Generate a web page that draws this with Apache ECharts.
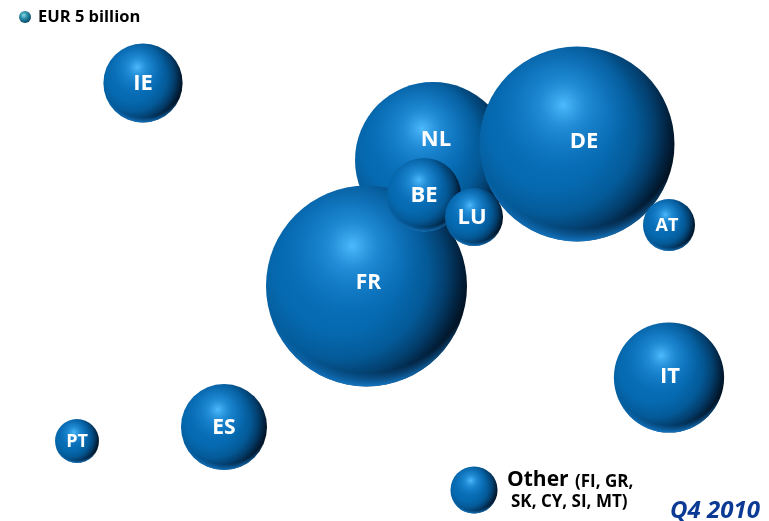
<!DOCTYPE html>
<html><head><meta charset="utf-8">
<style>html,body{margin:0;padding:0;background:#fff}#c{width:769px;height:521px}</style>
<script src="https://cdn.jsdelivr.net/npm/echarts@6/dist/echarts.min.js"></script>
</head><body><div id="c"></div>
<script>
// bubbles, back to front
const names  = ['IE','NL','DE','FR','BE','LU','AT','IT','ES','PT','Other','Key'];
const posX   = [143,433,577,366.5,424,474,669,669,224,77,474,25];
const posY   = [83,160,144,286,195,217,225,377.5,427,441,490,17];
const values = [218,845,1320,1403,190,117,94,422,257,67,77,5]; // EUR billion, estimated
const labels = ['IE','NL','DE','FR','BE','LU','AT','IT','ES','PT','',''];
const labelDX = [0,3,7,2,0,-2,-2,1,0,0,0,0];
const labelDY = [1,-20,-2,-3,1,1,1,-1,1,1,0,0];
const labelSize = [22,22,22,21,22,22,18,22,21,18,12,12];

const keyDiameter = 12, keyValue = 5;
const dia = v => keyDiameter * Math.sqrt(v / keyValue);

const shade = {type:'radial',x:0.36,y:0.42,r:0.67,colorStops:[
  {offset:0,color:'#0a72bd'},{offset:0.45,color:'#066ab1'},{offset:0.66,color:'#045a98'},
  {offset:0.8,color:'#033f6e'},{offset:0.92,color:'#021e38'},{offset:1,color:'#010c16'}]};
const glow = {type:'radial',x:0.43,y:0.3,r:0.36,colorStops:[
  {offset:0,color:'rgba(80,190,255,0.95)'},{offset:0.35,color:'rgba(50,160,235,0.55)'},
  {offset:1,color:'rgba(20,120,200,0)'}]};
const keyShade = {type:'radial',x:0.4,y:0.35,r:0.72,colorStops:[
  {offset:0,color:'#8ad6ea'},{offset:0.4,color:'#2f8fa8'},{offset:0.8,color:'#0f5a78'},{offset:1,color:'#06304a'}]};
const rim = {type:'radial',x:0.5,y:0.40,r:0.62,colorStops:[
  {offset:0,color:'rgba(20,120,200,0)'},{offset:0.86,color:'rgba(20,120,200,0)'},
  {offset:0.96,color:'rgba(20,125,205,0.85)'},{offset:1,color:'rgba(70,155,225,0.95)'}]};

const series = [];
names.forEach((n,i)=>{
  const d = dia(values[i]);
  const pt = [[posX[i],posY[i]]];
  const isKey = n==='Key';
  const layer = (suffix,color,label) => series.push({type:'scatter',name:n+suffix,silent:true,symbol:'circle',
    symbolSize:d,data:pt,itemStyle:{color,opacity:1},label:label||{show:false}});
  layer('',isKey?keyShade:shade);
  if(!isKey) layer(' glow',glow);
  layer(' rim',isKey?'rgba(0,0,0,0)':rim,{show:!!labels[i],formatter:labels[i],position:'inside',
    offset:[labelDX[i],labelDY[i]],color:'#fff',fontFamily:'Open Sans',fontWeight:'bold',fontSize:labelSize[i]});
});

const chart = echarts.init(document.getElementById('c'),null,{renderer:'canvas'});
chart.setOption({
  animation:false,backgroundColor:'#fff',
  grid:{left:0,right:0,top:0,bottom:0},
  xAxis:{type:'value',min:0,max:769,show:false},
  yAxis:{type:'value',min:0,max:521,inverse:true,show:false},
  series,
  graphic:[
    {type:'text',left:38,top:9,style:{text:'EUR 5 billion',fontFamily:'Open Sans',fontWeight:'bold',fontSize:16.5,fill:'#000'}},
    {type:'text',left:507,top:470,style:{text:'Other',fontFamily:'Open Sans',fontWeight:'bold',fontSize:21,fill:'#000'}},
    {type:'text',left:575,top:474,style:{text:'(FI, GR,',fontFamily:'Open Sans',fontWeight:'bold',fontSize:17,fill:'#000'}},
    {type:'text',left:511,top:494,style:{text:'SK, CY, SI, MT)',fontFamily:'Open Sans',fontWeight:'bold',fontSize:17,fill:'#000'}},
    {type:'text',left:670,top:499,style:{text:'Q4 2010',fontFamily:'Open Sans',fontWeight:'bold',fontStyle:'italic',fontSize:24,fill:'#0b3a94'}}
  ]
});
</script></body></html>
